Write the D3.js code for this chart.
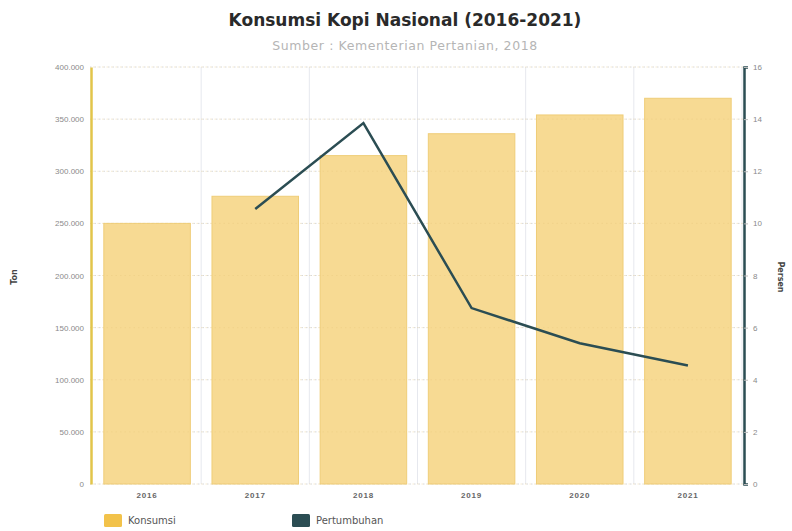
<!DOCTYPE html>
<html>
<head>
<meta charset="utf-8">
<script src="https://cdn.jsdelivr.net/npm/d3@7"></script>
<style>
  body { margin: 0; background: #fff; }
  svg { font-family: "DejaVu Sans", "Open Sans", sans-serif; }
</style>
</head>
<body>
<svg id="chart" width="792" height="531"></svg>
<script>
const years = ['2016', '2017', '2018', '2019', '2020', '2021'];
const konsumsi = [250000, 276000, 315000, 336000, 354000, 370000];
const pertumbuhan = [null, 10.55, 13.85, 6.75, 5.4, 4.55];
const leftTicks = [0, 50000, 100000, 150000, 200000, 250000, 300000, 350000, 400000];
const rightTicks = [0, 2, 4, 6, 8, 10, 12, 14, 16];

const barColor = '#f7da93';
const legendBarColor = '#f2c24a';
const lineColor = '#2b4d53';
const axisGold = '#e2c54a';

const svg = d3.select('#chart');
const margin = { top: 67, right: 44, bottom: 47, left: 93 };
const width = 792 - margin.left - margin.right;
const height = 531 - margin.top - margin.bottom;

const g = svg.append('g').attr('transform', `translate(${margin.left},${margin.top})`);

const x = d3.scaleBand().domain(years).range([0, 649]).paddingInner(0.2).paddingOuter(0.1);
const yL = d3.scaleLinear().domain([0, 400000]).range([height, 0]);
const yR = d3.scaleLinear().domain([0, 16]).range([height, 0]);

// vertical separators
const step = x.step();
g.selectAll('.vsep')
  .data(years.slice(1).concat(['end']))
  .enter()
  .append('line')
  .attr('x1', (d, i) => step * (i + 1))
  .attr('x2', (d, i) => step * (i + 1))
  .attr('y1', 0)
  .attr('y2', height)
  .attr('stroke', '#e6e8ee')
  .attr('stroke-width', 1);

// horizontal dotted grid
g.selectAll('.hgrid')
  .data(leftTicks)
  .enter()
  .append('line')
  .attr('x1', -3)
  .attr('x2', 652)
  .attr('y1', d => yL(d))
  .attr('y2', d => yL(d))
  .attr('stroke', '#d8d8d8')
  .attr('stroke-dasharray', '1.5,3');

// bars
g.selectAll('.bar')
  .data(konsumsi)
  .enter()
  .append('rect')
  .attr('x', (d, i) => x(years[i]))
  .attr('y', d => yL(d))
  .attr('width', x.bandwidth())
  .attr('height', d => height - yL(d))
  .attr('fill', barColor)
  .attr('stroke', '#efcd78')
  .attr('stroke-width', 1);

// dotted grid faintly over bars
g.selectAll('.hgrid2')
  .data(leftTicks)
  .enter()
  .append('line')
  .attr('x1', 0)
  .attr('x2', 652)
  .attr('y1', d => yL(d))
  .attr('y2', d => yL(d))
  .attr('stroke', '#e4c77a')
  .attr('stroke-opacity', 0.35)
  .attr('stroke-dasharray', '1.5,3');

// line
const lineData = pertumbuhan.map((v, i) => ({ year: years[i], v })).filter(d => d.v !== null);
const line = d3.line()
  .x(d => x(d.year) + x.bandwidth() / 2)
  .y(d => yR(d.v));
g.append('path')
  .datum(lineData)
  .attr('d', line)
  .attr('fill', 'none')
  .attr('stroke', lineColor)
  .attr('stroke-width', 2.5)
  .attr('stroke-linejoin', 'miter');

// left axis
const leftAxis = g.append('g')
  .attr('transform', 'translate(-2,0)')
  .call(d3.axisLeft(yL).tickValues(leftTicks).tickSize(0).tickPadding(7)
    .tickFormat(d => d3.format(',')(d).replace(/,/g, '.')));
leftAxis.select('.domain').attr('stroke', axisGold).attr('stroke-width', 2.5);
leftAxis.selectAll('text').attr('fill', '#8a8a8a').style('font-size', '8px');

// right axis
const rightAxis = g.append('g')
  .attr('transform', `translate(${width - 4},0)`)
  .call(d3.axisRight(yR).tickValues(rightTicks).tickSize(4).tickPadding(5));
rightAxis.select('.domain').attr('stroke', lineColor).attr('stroke-width', 2.5);
rightAxis.selectAll('.tick line').attr('stroke', '#bbb');
rightAxis.selectAll('text').attr('fill', '#8a8a8a').style('font-size', '8px');

// x axis labels
const xAxis = g.append('g')
  .attr('transform', `translate(0,${height})`)
  .call(d3.axisBottom(x).tickSize(0).tickPadding(8));
xAxis.select('.domain').remove();
xAxis.selectAll('text').attr('fill', '#666').style('font-size', '8px').style('font-weight', 'bold')
  .style('letter-spacing', '0.8px');

// axis titles
svg.append('text')
  .attr('transform', 'translate(17,277) rotate(-90)')
  .attr('text-anchor', 'middle')
  .style('font-size', '8px')
  .style('font-weight', 'bold')
  .attr('fill', '#444')
  .text('Ton');
svg.append('text')
  .attr('transform', 'translate(778,277) rotate(90)')
  .attr('text-anchor', 'middle')
  .style('font-size', '8px')
  .style('font-weight', 'bold')
  .attr('fill', '#444')
  .text('Persen');

// title
svg.append('text')
  .attr('x', 405)
  .attr('y', 26)
  .attr('text-anchor', 'middle')
  .style('font-size', '17px')
  .style('font-weight', 'bold')
  .attr('fill', '#2a2a2a')
  .text('Konsumsi Kopi Nasional (2016-2021)');
svg.append('text')
  .attr('x', 405)
  .attr('y', 50)
  .attr('text-anchor', 'middle')
  .style('font-size', '12.5px')
  .style('letter-spacing', '0.6px')
  .attr('fill', '#b5b5b5')
  .text('Sumber : Kementerian Pertanian, 2018');

// legend
const legendItems = [
  { label: 'Konsumsi', color: legendBarColor, x: 104 },
  { label: 'Pertumbuhan', color: lineColor, x: 292 }
];
const legend = svg.selectAll('.legend')
  .data(legendItems)
  .enter()
  .append('g')
  .attr('transform', d => `translate(${d.x},514)`);
legend.append('rect')
  .attr('width', 18)
  .attr('height', 13)
  .attr('rx', 1.5)
  .attr('fill', d => d.color);
legend.append('text')
  .attr('x', 24)
  .attr('y', 10)
  .style('font-size', '10px')
  .attr('fill', '#555')
  .text(d => d.label);
</script>
</body>
</html>
